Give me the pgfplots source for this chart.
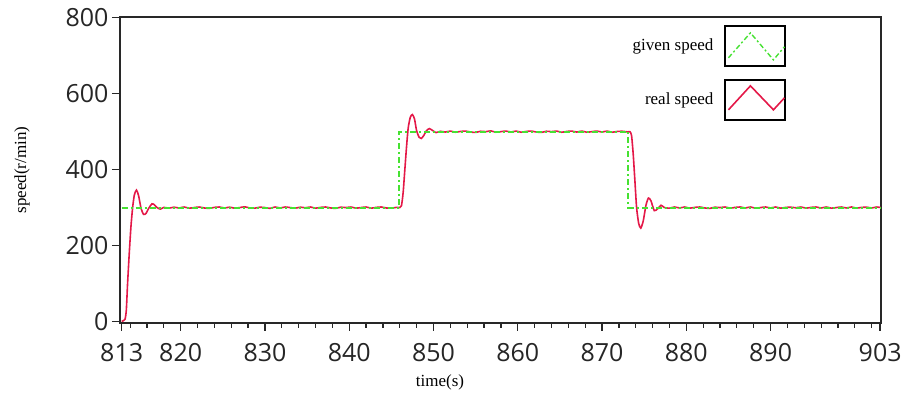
\documentclass[border=0pt]{standalone}
\usepackage{pgfplots}
\pgfplotsset{compat=1.18}
\usepackage{fontspec}
\setmainfont{Liberation Serif}
\newfontfamily\tickfont{Open Sans}
\definecolor{realred}{RGB}{228,24,72}
\definecolor{givengreen}{RGB}{70,225,50}
\definecolor{axgray}{RGB}{40,40,40}
\pgfplotstableread{
t v
813.0 0
813.2 2
813.4 6
813.55 30
813.7 100
813.9 180
814.1 250
814.3 300
814.5 333
814.75 346
815.0 332
815.3 298
815.6 282
815.9 285
816.2 298
816.6 310
816.9 307
817.2 300
817.6 296
818.0 300.5
818.6 298.5
819.2 301
819.8 299
820.4 301.5
821.0 298.5
821.6 300
822.2 301.5
822.8 299
823.4 298
824.0 300.5
824.6 301.5
825.2 299
825.8 301
826.4 298.5
827.0 300
827.6 302
828.2 299
828.8 298.5
829.4 301
830.0 300
830.6 298
831.2 301.5
831.8 299
832.4 301.5
833.0 300
833.6 298.5
834.2 301
834.8 299.5
835.4 301.5
836.0 298.5
836.6 300.5
837.2 301.5
837.8 299
838.4 298
839.0 301
839.6 300
840.2 301.5
840.8 298.5
841.4 300
842.0 301.5
842.6 298.5
843.2 300.5
843.8 301.5
844.4 299
845.0 298.5
845.6 300.5
846.0 300
846.2 305
846.4 340
846.6 400
846.8 460
847.0 510
847.25 538
847.5 545
847.75 533
848.0 502
848.3 485
848.55 482
848.85 490
849.15 502
849.5 508
849.9 503
850.3 497.5
850.8 501
851.4 499
852.0 501.5
852.6 498.5
853.2 500.5
853.8 501.5
854.4 499
855.0 498
855.6 501
856.2 500
856.8 502
857.4 498.5
858.0 500
858.6 501.5
859.2 499
859.8 501.5
860.4 498.5
861.0 500.5
861.6 501.5
862.2 499
862.8 498
863.4 501
864.0 500
864.6 501.5
865.2 498.5
865.8 500.5
866.4 501.5
867.0 499
867.6 501.5
868.2 498.5
868.8 500
869.4 501.5
870.0 499
870.6 501.5
871.2 498.5
871.8 500.5
872.4 501
873.0 499.5
873.3 500
873.5 490
873.7 440
873.9 370
874.1 300
874.35 258
874.6 246
874.9 266
875.2 305
875.5 325
875.8 318
876.2 292
876.6 297
877.0 306
877.4 300
878.0 298.5
878.6 301.5
879.2 299
879.8 301.5
880.4 298.5
881.0 300.5
881.6 301.5
882.2 299
882.8 298
883.4 301
884.0 300
884.6 301.5
885.2 298.5
885.8 300.5
886.4 301.5
887.0 299
887.6 301.5
888.2 298.5
888.8 300
889.4 301.5
890.0 299
890.6 301.5
891.2 298.5
891.8 300.5
892.4 301
893.0 299.5
893.6 301.5
894.2 298.5
894.8 300.5
895.4 301.5
896.0 299
896.6 301.5
897.2 298.5
897.8 300
898.4 301.5
899.0 299
899.6 301.5
900.2 298.5
900.8 300.5
901.4 301
902.0 299
902.6 301.5
903.1 300
}\realtab
\pgfplotstableread{
t v
813 300
845.9 300
845.9 500
873.1 500
873.1 300
903.1 300
}\giventab
\begin{document}
\begin{tikzpicture}
\useasboundingbox (-120pt,-73pt) rectangle (783pt,323pt);
\begin{axis}[
  at={(0pt,0pt)}, anchor=south west,
  scale only axis, width=761pt, height=306pt,
  xmin=812.8, xmax=903.1, ymin=-4, ymax=802,
  axis line style={axgray, line width=1.8pt},
  tick align=outside,
  xtick pos=bottom, ytick pos=left,
  xtick={813,820,830,840,850,860,870,880,890,903},
  minor xtick={814,816,818,822,824,826,828,832,834,836,838,842,844,846,848,852,854,856,858,862,864,866,868,872,874,876,878,882,884,886,888,892,894,896,898,900,902},
  ytick={0,200,400,600,800},
  major tick length=8pt, minor tick length=5pt,
  major tick style={axgray, line width=1.4pt},
  minor tick style={axgray, line width=1.2pt},
  /pgf/number format/assume math mode=true,
  /pgf/number format/1000 sep={},
  ticklabel style={font=\tickfont\fontsize{25}{25}\selectfont, text=black!85},
  xticklabel style={yshift=-9pt},
  every axis x label/.style={at={(axis description cs:0.4205,-0.195)}, anchor=center, font=\fontsize{17}{17}\selectfont},
  every axis y label/.style={at={(axis description cs:-0.1288,0.5)}, rotate=90, anchor=center, font=\fontsize{17}{17}\selectfont},
  xlabel={time(s)}, ylabel={speed(r/min)},
  legend plot pos=right,
  legend style={at={(axis description cs:0.876,0.975)}, anchor=north east, draw=none, fill=none,
    font=\fontsize{17}{17}\selectfont, row sep=12pt, inner sep=0pt,
    nodes={inner xsep=11pt}},
  legend cell align=right,
  clip=true,
]
\addplot[realred, line width=1.6pt, smooth, tension=0.4, forget plot] table[x=t,y=v] {\realtab};
\addplot[givengreen, line width=2pt, dash pattern=on 6pt off 3pt on 2pt off 3pt, forget plot] table[x=t,y=v] {\giventab};
\addlegendimage{givengreen, line width=1.4pt, dash pattern=on 5pt off 2.5pt on 2pt off 2.5pt,
  legend image code/.code={
    \draw[black, solid, line width=2pt] (0pt,-20pt) rectangle (60pt,20pt);
    \draw (3pt,-12pt) -- (25pt,13pt) -- (48pt,-14pt) -- (59pt,-1pt);
  }}
\addlegendentry{given speed}
\addlegendimage{realred, line width=1.6pt,
  legend image code/.code={
    \draw[black, solid, line width=2pt] (0pt,-20pt) rectangle (60pt,20pt);
    \draw (3pt,-10pt) -- (25pt,14pt) -- (48pt,-10pt) -- (59pt,2pt);
  }}
\addlegendentry{real speed}
\end{axis}
\end{tikzpicture}
\end{document}
